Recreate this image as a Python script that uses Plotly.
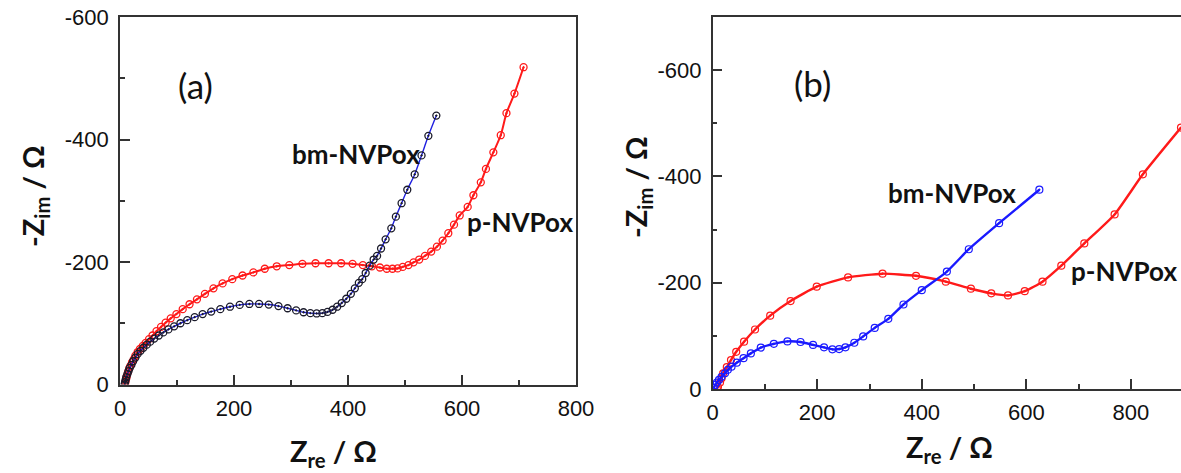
import plotly.graph_objects as go

# ---------------- data (Z_re in ohm, Z_im in ohm; Z_im negative) ----------------
# Panel (a)
a_p_zre = [9, 10, 11, 12, 14, 16, 18, 21, 24, 27, 31, 35, 40, 45, 51, 57, 64, 72, 80, 89,
           99, 110, 122, 135, 149, 164, 180, 197, 215, 234, 254, 275, 297, 320, 343, 366,
           388, 408, 426, 442, 456, 468, 478, 487, 496, 506, 515, 525, 535, 546, 556, 566,
           576, 586, 596, 610, 620, 633, 642, 655, 668, 678, 692, 708]
a_p_zim = [-2, -6, -10, -14, -20, -26, -30, -36, -41, -47, -53, -58, -63, -68, -74, -80, -87,
           -94, -101, -108, -115, -123, -131, -139, -148, -157, -165, -172, -178, -183, -189,
           -193, -195, -197, -198, -198, -198, -197, -195, -193, -191, -189, -189, -189.5,
           -192, -195, -199.5, -204, -210, -217, -225, -235, -247, -261, -276, -290, -309,
           -330, -352, -379, -407, -443, -475, -518]

a_bm_zre = [8, 9, 10, 11, 13, 15, 17, 20, 23, 27, 31, 36, 41, 47, 53, 60, 68, 76, 85, 95,
            106, 118, 131, 145, 160, 176, 193, 210, 227, 244, 261, 278, 294, 309, 322, 334,
            345, 355, 364, 373, 381, 389, 397, 405, 412, 419, 425, 431, 438, 445, 451, 458,
            466, 476, 484, 494, 504, 517, 529, 541, 555]
a_bm_zim = [0, -4, -8, -12, -17, -22, -27, -32, -38, -44, -50, -55, -60, -65, -70, -75, -80,
            -85, -90, -95, -100, -105, -110, -115, -119, -123, -127, -130, -131.5, -131.5,
            -130.5, -128, -124.5, -121, -118, -116.5, -116, -116.5, -118.5, -122, -127, -133,
            -140, -148, -157, -166, -172, -182, -194, -204, -210, -222, -237, -255, -274, -296,
            -318, -343, -374, -406, -439]

# Panel (b)
b_p_zre = [8, 10, 14, 17, 20, 27, 35, 45, 60, 81, 110, 149, 199, 259, 325, 389, 446, 494,
           533, 565, 597, 631, 667, 711, 769, 823, 896]
b_p_zim = [0, -4, -12, -20, -29.5, -41, -54.5, -70, -89, -112, -138, -165.5, -192.5, -210,
           -217, -213, -202, -188.7, -180, -176, -184, -202, -232, -274, -328.5, -404, -492]

b_bm_zre = [2, 4.4, 8, 12, 17, 23.5, 29, 36, 46, 59, 73, 92, 117, 143, 168, 192, 213, 229,
            242, 254, 271, 288, 310, 336, 365, 400, 448, 490, 548, 625]
b_bm_zim = [-2, -7.5, -12, -17, -23, -29.5, -36, -42, -49.5, -58, -67, -78, -85, -89.6,
            -88.4, -83, -78.4, -74.6, -75.2, -78.4, -87, -99, -115, -132, -159, -186, -221,
            -263, -312, -375]

a_xticks = [0, 200, 400, 600, 800]
a_xticktext = ["0", "200", "400", "600", "800"]
a_yticks = [0, -200, -400, -600]
a_yticktext = ["0", "-200", "-400", "-600"]
b_xticks = [0, 200, 400, 600, 800]
b_xticktext = ["0", "200", "400", "600", "800"]
b_yticks = [0, -200, -400, -600]
b_yticktext = ["0", "-200", "-400", "-600"]

# ---------------- figure ----------------
W, H = 1181, 473
RED = "#ff1a1a"
BLUE = "#1a1aff"


def px_x(p):
    return p / W


def px_y(p):
    return 1 - p / H


fig = go.Figure()

# panel (a)
fig.add_trace(go.Scatter(x=a_p_zre, y=a_p_zim, mode="lines+markers", xaxis="x", yaxis="y",
                         line=dict(color=RED, width=2, shape="spline", smoothing=0.6),
                         marker=dict(symbol="circle-open-dot", size=7, color=RED,
                                     line=dict(width=1.3, color=RED)),
                         showlegend=False))
fig.add_trace(go.Scatter(x=a_bm_zre, y=a_bm_zim, mode="lines+markers", xaxis="x", yaxis="y",
                         line=dict(color="#2020e0", width=1.4, shape="spline", smoothing=0.6),
                         marker=dict(symbol="circle-open-dot", size=7, color="#1a1a2a",
                                     line=dict(width=1.3, color="#1a1a2a")),
                         showlegend=False))
# panel (b)
fig.add_trace(go.Scatter(x=b_p_zre, y=b_p_zim, mode="lines+markers", xaxis="x2", yaxis="y2",
                         line=dict(color=RED, width=2.4, shape="spline", smoothing=0.5),
                         marker=dict(symbol="circle-open-dot", size=7, color=RED,
                                     line=dict(width=1.2, color=RED)),
                         showlegend=False))
fig.add_trace(go.Scatter(x=b_bm_zre, y=b_bm_zim, mode="lines+markers", xaxis="x2", yaxis="y2",
                         line=dict(color=BLUE, width=2.4, shape="spline", smoothing=0.5),
                         marker=dict(symbol="circle-open-dot", size=7, color=BLUE,
                                     line=dict(width=1.2, color=BLUE)),
                         showlegend=False))

TICKFONT = dict(family="Liberation Sans, Arial, sans-serif", size=22, color="#111111")
AXCOL = "#333333"


def xaxis(domain, rng, tv, tt, mirror, anchor):
    return dict(domain=domain, range=rng, tickvals=tv, ticktext=tt, ticks="inside",
                ticklen=10, tickwidth=1.5, tickcolor=AXCOL, showline=True, linecolor=AXCOL,
                linewidth=1.5, mirror=mirror, showgrid=False, zeroline=False,
                tickfont=TICKFONT, ticklabelstandoff=3, anchor=anchor, automargin=False,
                minor=dict(dtick=100, ticks="inside", ticklen=5, tickwidth=1.5,
                           tickcolor=AXCOL, showgrid=False))


def yaxis(domain, rng, tv, tt, mirror, anchor):
    return dict(domain=domain, range=rng, tickvals=tv, ticktext=tt, ticks="inside",
                ticklen=10, tickwidth=1.5, tickcolor=AXCOL, showline=True, linecolor=AXCOL,
                linewidth=1.5, mirror=mirror, showgrid=False, zeroline=False,
                tickfont=TICKFONT, ticklabelstandoff=5, anchor=anchor, automargin=False,
                minor=dict(dtick=100, ticks="inside", ticklen=5, tickwidth=1.5,
                           tickcolor=AXCOL, showgrid=False))


fig.update_layout(
    width=W, height=H,
    margin=dict(l=0, r=0, t=0, b=0, pad=0, autoexpand=False),
    paper_bgcolor="white", plot_bgcolor="white",
    xaxis=xaxis([px_x(120), px_x(576)], [0, 800], a_xticks, a_xticktext, True, "y"),
    yaxis=yaxis([px_y(384.5), px_y(17)], [0, -600], a_yticks, a_yticktext, True, "x"),
    xaxis2=xaxis([px_x(712.7), 1.0], [0, 896], b_xticks, b_xticktext, True, "y2"),
    yaxis2=yaxis([px_y(389), px_y(17)], [0, -700], b_yticks, b_yticktext, False, "x2"),
)

TITLEFONT = dict(family="Lato, Open Sans, sans-serif", size=29, color="#111111")
LABELFONT = dict(family="Lato, Open Sans, sans-serif", size=26, color="#111111")
PANELFONT = dict(family="Lato, Open Sans, sans-serif", size=35, color="#111111")

annos = [
    # axis titles
    dict(text="<b>Z<sub>re</sub> / Ω</b>", x=px_x(333), y=px_y(452), font=TITLEFONT),
    dict(text="<b>-Z<sub>im</sub> / Ω</b>", x=px_x(34), y=px_y(196), font=TITLEFONT,
         textangle=-90),
    dict(text="<b>Z<sub>re</sub> / Ω</b>", x=px_x(949), y=px_y(448), font=TITLEFONT),
    dict(text="<b>-Z<sub>im</sub> / Ω</b>", x=px_x(637), y=px_y(187), font=TITLEFONT,
         textangle=-90),
    # panel letters
    dict(text="(a)", x=px_x(195), y=px_y(85), font=PANELFONT),
    dict(text="(b)", x=px_x(812), y=px_y(83), font=PANELFONT),
    # curve labels
    dict(text="<b>bm-NVPox</b>", x=px_x(356), y=px_y(154), font=LABELFONT),
    dict(text="<b>p-NVPox</b>", x=px_x(520), y=px_y(222), font=LABELFONT),
    dict(text="<b>bm-NVPox</b>", x=px_x(952), y=px_y(193), font=LABELFONT),
    dict(text="<b>p-NVPox</b>", x=px_x(1124), y=px_y(271), font=LABELFONT),
]
for a in annos:
    fig.add_annotation(xref="paper", yref="paper", showarrow=False, xanchor="center",
                       yanchor="middle", **a)

fig.write_html("out.html")
